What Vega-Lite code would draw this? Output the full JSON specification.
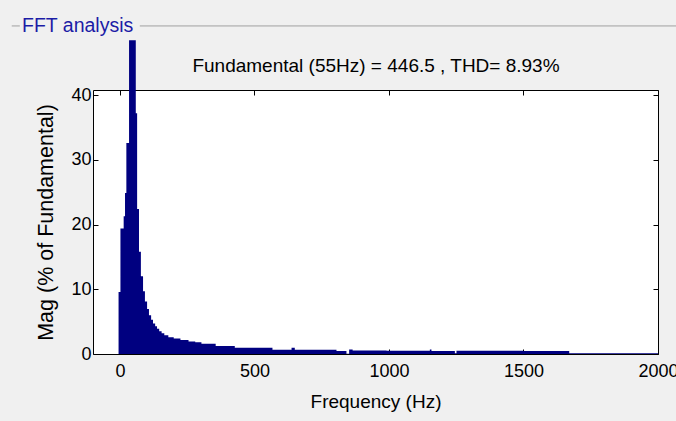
{
  "$schema": "https://vega.github.io/schema/vega-lite/v6.json",
  "width": 565,
  "height": 264,
  "autosize": {"type": "none"},
  "padding": {"left": 93, "top": 90, "right": 18, "bottom": 67},
  "background": "#f0f0f0",
  "config": {
    "view": {"stroke": "#000000", "strokeWidth": 1, "fill": "#ffffff"},
    "font": "Liberation Sans"
  },
  "title": {
    "text": "FFT analysis",
    "anchor": "start",
    "frame": "group",
    "dx": -71,
    "dy": 31,
    "offset": 20,
    "color": "#1c1ca6",
    "fontSize": 19.5,
    "fontWeight": "normal",
    "font": "Liberation Sans"
  },
  "datasets": {
    "spectrum": [
      {"f": -5, "mag": 9.6},
      {"f": 2, "mag": 19.4},
      {"f": 14, "mag": 21.3},
      {"f": 19, "mag": 24.9},
      {"f": 24, "mag": 32.6},
      {"f": 34, "mag": 48.5},
      {"f": 59, "mag": 37.2},
      {"f": 64, "mag": 22.4},
      {"f": 71, "mag": 15.8},
      {"f": 78, "mag": 12.0},
      {"f": 86, "mag": 9.7},
      {"f": 93, "mag": 8.1},
      {"f": 101, "mag": 6.95},
      {"f": 108, "mag": 6.0},
      {"f": 116, "mag": 5.3},
      {"f": 123, "mag": 4.7},
      {"f": 131, "mag": 4.3},
      {"f": 138, "mag": 3.9},
      {"f": 146, "mag": 3.5},
      {"f": 155, "mag": 3.2},
      {"f": 165, "mag": 2.9},
      {"f": 180, "mag": 2.6},
      {"f": 200, "mag": 2.4},
      {"f": 225, "mag": 2.15},
      {"f": 255, "mag": 1.95},
      {"f": 280, "mag": 1.8},
      {"f": 303, "mag": 1.6},
      {"f": 356, "mag": 1.25},
      {"f": 427, "mag": 0.95},
      {"f": 567, "mag": 0.66},
      {"f": 638, "mag": 0.95},
      {"f": 650, "mag": 0.66},
      {"f": 805, "mag": 0.46},
      {"f": 842, "mag": 0.05},
      {"f": 852, "mag": 0.7},
      {"f": 865, "mag": 0.56},
      {"f": 991, "mag": 0.5},
      {"f": 1152, "mag": 0.7},
      {"f": 1158, "mag": 0.46},
      {"f": 1245, "mag": 0.1},
      {"f": 1251, "mag": 0.5},
      {"f": 1499, "mag": 0.46},
      {"f": 1670, "mag": 0.12},
      {"f": 2000, "mag": 0.12}
    ]
  },
  "layer": [
    {
      "data": {"name": "spectrum"},
      "mark": {"type": "area", "interpolate": "step-after", "color": "#000080", "clip": false},
      "encoding": {
        "x": {
          "field": "f",
          "type": "quantitative",
          "scale": {"domain": [-100, 2000], "nice": false, "zero": false},
          "axis": {
            "orient": "bottom",
            "values": [0, 500, 1000, 1500, 2000],
            "format": "d",
            "tickSize": -5,
            "tickColor": "#000000",
            "labelFontSize": 18,
            "labelColor": "#000000",
            "labelPadding": 13,
            "labelFlush": false,
            "labelOverlap": false,
            "title": "Frequency (Hz)",
            "titleFontSize": 19,
            "titleFontWeight": "normal",
            "titleColor": "#000000",
            "titlePadding": 12,
            "grid": false,
            "domain": false
          }
        },
        "y": {
          "field": "mag",
          "type": "quantitative",
          "scale": {"domain": [0, 40.8], "nice": false},
          "axis": {
            "orient": "left",
            "values": [0, 10, 20, 30, 40],
            "tickSize": -5,
            "tickColor": "#000000",
            "labelFontSize": 18,
            "labelColor": "#000000",
            "labelPadding": 7,
            "labelFlush": false,
            "labelOverlap": false,
            "title": "Mag (% of Fundamental)",
            "titleFontSize": 21.5,
            "titleFontWeight": "normal",
            "titleColor": "#000000",
            "titlePadding": 13,
            "grid": false,
            "domain": false
          }
        }
      }
    },
    {
      "data": {"values": [{}]},
      "mark": {"type": "rule", "color": "#a0a0a0", "strokeWidth": 1, "clip": false},
      "encoding": {
        "x": {
          "datum": 74,
          "type": "quantitative",
          "scale": {"domain": [-100, 2000], "nice": false, "zero": false},
          "axis": {
            "orient": "top",
            "values": [0, 500, 1000, 1500, 2000],
            "tickSize": -5,
            "tickColor": "#000000",
            "labels": false,
            "title": "Fundamental (55Hz) = 446.5 , THD= 8.93%",
            "titleFontSize": 19,
            "titleFontWeight": "normal",
            "titleColor": "#000000",
            "titlePadding": 14,
            "grid": false,
            "domain": false
          }
        },
        "x2": {"datum": 2070},
        "y": {
          "datum": 50.7,
          "type": "quantitative",
          "scale": {"domain": [0, 40.8], "nice": false},
          "axis": {
            "orient": "right",
            "values": [0, 10, 20, 30, 40],
            "tickSize": -5,
            "tickColor": "#000000",
            "labels": false,
            "title": null,
            "grid": false,
            "domain": false
          }
        }
      }
    },
    {
      "data": {"values": [{}]},
      "mark": {"type": "rule", "color": "#a0a0a0", "strokeWidth": 1, "clip": false},
      "encoding": {
        "x": {"datum": -402, "type": "quantitative", "axis": null},
        "x2": {"datum": -372},
        "y": {"datum": 50.7, "type": "quantitative", "axis": null}
      }
    }
  ],
  "resolve": {"axis": {"x": "independent", "y": "independent"}}
}
